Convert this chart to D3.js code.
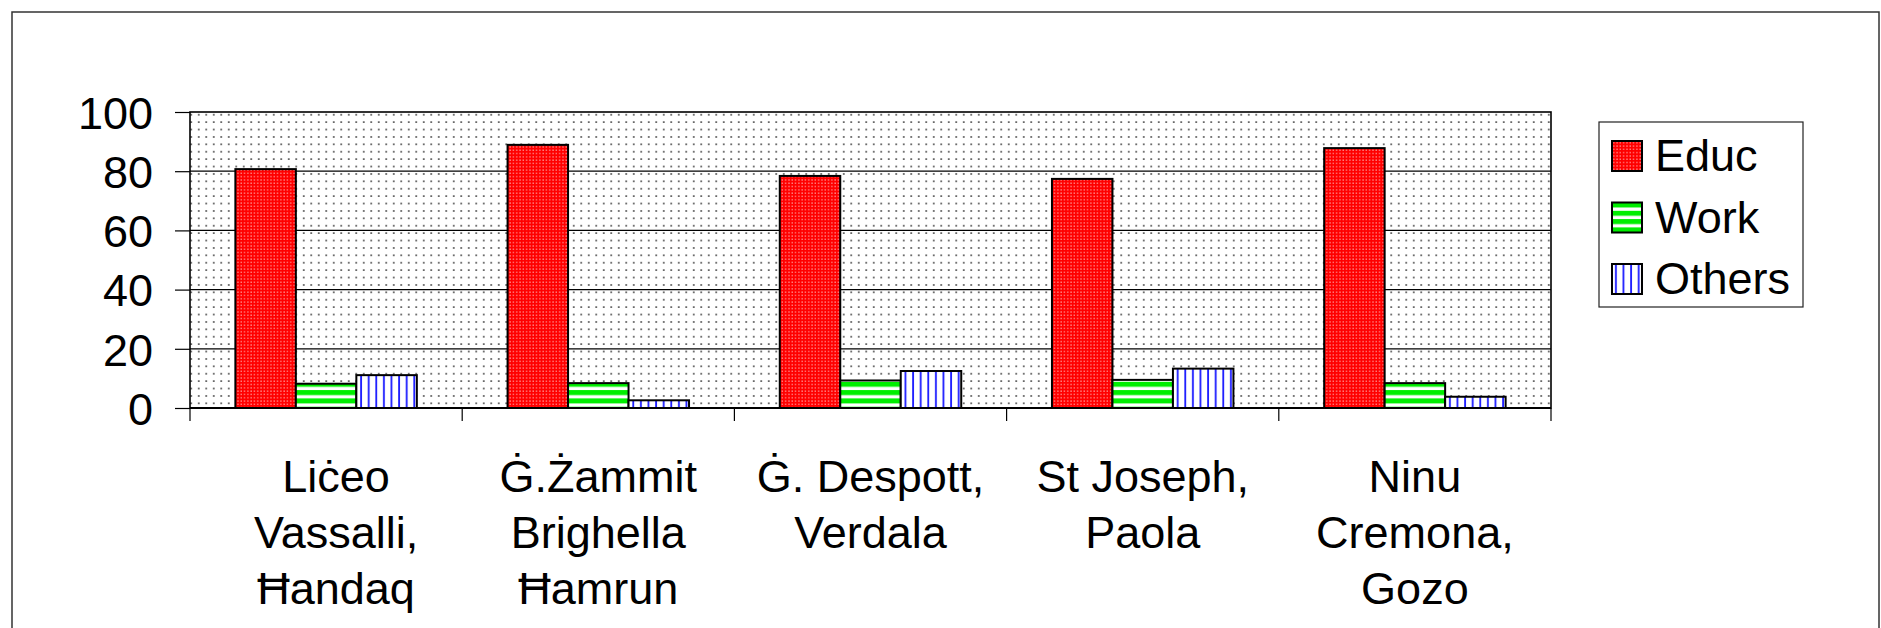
<!DOCTYPE html>
<html>
<head>
<meta charset="utf-8">
<script src="https://cdn.jsdelivr.net/npm/d3@7"></script>
<style>
  body { margin: 0; background: #fff; }
  text { font-family: "Liberation Sans", Arial, sans-serif; fill: #000; }
</style>
</head>
<body>
<svg id="chart"></svg>
<script>
const categories = [
    ["Liċeo", "Vassalli,", "Ħandaq"],
    ["Ġ.Żammit", "Brighella", "Ħamrun"],
    ["Ġ. Despott,", "Verdala"],
    ["St Joseph,", "Paola"],
    ["Ninu", "Cremona,", "Gozo"]
];
const seriesNames = ["Educ", "Work", "Others"];
const educ = [80.7, 88.9, 78.4, 77.4, 87.8];
const work = [8.2, 8.4, 9.3, 9.5, 8.4];
const others = [11.1, 2.6, 12.5, 13.3, 3.8];
const yTicks = [0, 20, 40, 60, 80, 100];

const width = 1881;
const height = 628;

const svg = d3.select("#chart")
    .attr("width", width)
    .attr("height", height);

const defs = svg.append("defs");

// plot area dots
const bgPat = defs.append("pattern")
    .attr("id", "bg-dots")
    .attr("patternUnits", "userSpaceOnUse")
    .attr("width", 7.5)
    .attr("height", 7.4);
bgPat.append("rect").attr("width", 7.5).attr("height", 7.4).attr("fill", "#fff");
bgPat.append("rect").attr("x", 3).attr("y", 3).attr("width", 1.5).attr("height", 1.5).attr("fill", "#222");

// Educ: red with tiny white dots
const redPat = defs.append("pattern")
    .attr("id", "pat-Educ")
    .attr("patternUnits", "userSpaceOnUse")
    .attr("width", 3.3)
    .attr("height", 3.3);
redPat.append("rect").attr("width", 3.3).attr("height", 3.3).attr("fill", "#ff0000");
redPat.append("rect").attr("x", 1.2).attr("y", 1.2).attr("width", 1.1).attr("height", 1.1).attr("fill", "#ffd0d0");

// Work: green horizontal stripes
const greenPat = defs.append("pattern")
    .attr("id", "pat-Work")
    .attr("patternUnits", "userSpaceOnUse")
    .attr("width", 8)
    .attr("height", 8.3);
greenPat.append("rect").attr("width", 8).attr("height", 8.3).attr("fill", "#fff");
greenPat.append("rect").attr("y", 0).attr("width", 8).attr("height", 5).attr("fill", "#00ee00");

// Others: blue vertical lines
const bluePat = defs.append("pattern")
    .attr("id", "pat-Others")
    .attr("patternUnits", "userSpaceOnUse")
    .attr("width", 7.6)
    .attr("height", 8);
bluePat.append("rect").attr("width", 7.6).attr("height", 8).attr("fill", "#fff");
bluePat.append("rect").attr("x", 3).attr("width", 1.8).attr("height", 8).attr("fill", "#1a1aff");

// outer frame
svg.append("rect")
    .attr("x", 12).attr("y", 12)
    .attr("width", 1867).attr("height", 700)
    .attr("fill", "none")
    .attr("stroke", "#333")
    .attr("stroke-width", 1.5);

const plot = { left: 190, right: 1551, top: 112, bottom: 408 };

const x0 = d3.scaleBand()
    .domain(d3.range(categories.length))
    .range([plot.left, plot.right]);

const x1 = d3.scaleBand()
    .domain(seriesNames)
    .range([0, x0.bandwidth()])
    .paddingOuter(0.75);

const y = d3.scaleLinear()
    .domain([0, 100])
    .range([plot.bottom, plot.top]);

// background
svg.append("rect")
    .attr("x", plot.left).attr("y", plot.top)
    .attr("width", plot.right - plot.left)
    .attr("height", plot.bottom - plot.top)
    .attr("fill", "url(#bg-dots)");

// gridlines
svg.append("g")
    .selectAll("line")
    .data(yTicks.filter(t => t > 0 && t < 100))
    .enter()
    .append("line")
    .attr("x1", plot.left).attr("x2", plot.right)
    .attr("y1", d => y(d)).attr("y2", d => y(d))
    .attr("stroke", "#000")
    .attr("stroke-width", 1.2);

// plot border
svg.append("rect")
    .attr("x", plot.left).attr("y", plot.top)
    .attr("width", plot.right - plot.left)
    .attr("height", plot.bottom - plot.top)
    .attr("fill", "none")
    .attr("stroke", "#000")
    .attr("stroke-width", 1.6);

// bars
const values = { Educ: educ, Work: work, Others: others };
const group = svg.append("g")
    .selectAll("g")
    .data(categories.map((c, i) => i))
    .enter()
    .append("g")
    .attr("transform", i => `translate(${x0(i)},0)`);

group.selectAll("rect")
    .data(i => seriesNames.map(s => ({ s, v: values[s][i] })))
    .enter()
    .append("rect")
    .attr("x", d => x1(d.s))
    .attr("y", d => y(d.v))
    .attr("width", x1.bandwidth())
    .attr("height", d => y(0) - y(d.v))
    .attr("fill", d => `url(#pat-${d.s})`)
    .attr("stroke", "#000")
    .attr("stroke-width", 2);

// y axis
const yAxis = svg.append("g")
    .attr("transform", `translate(${plot.left},0)`)
    .call(d3.axisLeft(y).tickValues(yTicks).tickSize(15).tickPadding(22));
yAxis.select(".domain").remove();
yAxis.selectAll("line").attr("stroke", "#000").attr("stroke-width", 1.2);
yAxis.selectAll("text")
    .attr("font-size", 45)
    .attr("font-family", "Liberation Sans, Arial, sans-serif")
    .attr("dy", "0.36em");

// x axis baseline + ticks at category boundaries
svg.append("line")
    .attr("x1", plot.left).attr("x2", plot.right)
    .attr("y1", plot.bottom).attr("y2", plot.bottom)
    .attr("stroke", "#000").attr("stroke-width", 2.2);

const bounds = d3.range(categories.length).map(i => x0(i)).concat([plot.right]);
svg.append("g")
    .selectAll("line")
    .data(bounds)
    .enter()
    .append("line")
    .attr("x1", d => d).attr("x2", d => d)
    .attr("y1", plot.bottom).attr("y2", plot.bottom + 13)
    .attr("stroke", "#000")
    .attr("stroke-width", 1.2);

// category labels (first one sits a little right of centre in the original)
const labelShift = [10, 0, 0, 0, 0];
const labels = svg.append("g")
    .selectAll("text")
    .data(categories.map((c, i) => i))
    .enter()
    .append("text")
    .attr("text-anchor", "middle")
    .attr("font-size", 45);

labels.selectAll("tspan")
    .data(i => categories[i].map(line => ({ i, line })))
    .enter()
    .append("tspan")
    .attr("x", d => x0(d.i) + x0.bandwidth() / 2 + labelShift[d.i])
    .attr("y", (d, k) => 492 + k * 56)
    .text(d => d.line);

// legend
const legend = svg.append("g");
legend.append("rect")
    .attr("x", 1599).attr("y", 122)
    .attr("width", 204).attr("height", 185)
    .attr("fill", "#fff")
    .attr("stroke", "#222")
    .attr("stroke-width", 1.2);

const item = legend.selectAll("g.item")
    .data(seriesNames)
    .enter()
    .append("g")
    .attr("class", "item")
    .attr("transform", (d, i) => `translate(1612,${141 + i * 61.5})`);

item.append("rect")
    .attr("width", 30).attr("height", 30)
    .attr("fill", d => `url(#pat-${d})`)
    .attr("stroke", "#000")
    .attr("stroke-width", 2);

item.append("text")
    .attr("x", 43)
    .attr("y", 30)
    .attr("font-size", 45)
    .text(d => d);
</script>
</body>
</html>
